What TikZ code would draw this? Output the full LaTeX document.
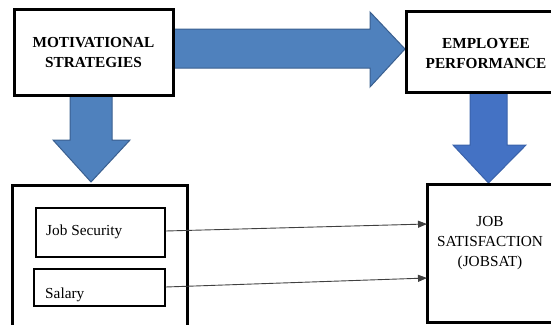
\documentclass[tikz,border=0pt]{standalone}
\usepackage{fontspec}
\setmainfont{Liberation Serif}
\usetikzlibrary{arrows.meta}
\definecolor{blueA}{HTML}{4F81BD}
\definecolor{blueAb}{HTML}{3A5F8F}
\definecolor{blueB}{HTML}{4472C4}
\definecolor{blueBb}{HTML}{3A62AA}
\begin{document}
\begin{tikzpicture}[x=1pt,y=-1pt,
  bigbox/.style={draw=black, line width=3pt, fill=white, minimum width=#1},
  smallbox/.style={draw=black, line width=1.3pt, fill=white},
  lbl/.style={font=\fontsize{15.3}{20}\selectfont, align=center, inner sep=0pt},
  fatarrowA/.style={fill=blueA, draw=blueAb, line width=1pt},
  fatarrowB/.style={fill=blueB, draw=blueBb, line width=1pt},
  thin/.style={draw=black!75, line width=0.9pt, -{Triangle[length=9pt,width=7pt]}}]
\useasboundingbox (0,0) rectangle (551,324);
\clip (0,0) rectangle (551,324);
% fat arrows (behind the boxes)
\coordinate (a1) at (173,29);
\coordinate (a2) at (173,68);
\draw[fatarrowA] (a1) -- (370,29) -- (370,12) -- (405,49) -- (370,87) -- (370,68) -- (a2) -- cycle;
\draw[fatarrowA] (70,95) -- (70,140) -- (53,140) -- (91,182) -- (130,140) -- (112,140) -- (112,95) -- cycle;
\draw[fatarrowB] (470,92) -- (470,145) -- (453,145) -- (488.5,183) -- (526,145) -- (507,145) -- (507,92) -- cycle;
% big boxes
\node[bigbox=159pt, minimum height=86pt] (mot) at (93.5,52) {};
\node[lbl, font=\bfseries\fontsize{15.3}{20}\selectfont] (motT) at (93.5,53) {MOTIVATIONAL\\STRATEGIES};
\node[bigbox=160pt, minimum height=81pt] (emp) at (486,51.5) {};
\node[lbl, font=\bfseries\fontsize{15.3}{20}\selectfont] (empT) at (486,54) {EMPLOYEE\\PERFORMANCE};
\node[bigbox=175pt, minimum height=170pt] (bl) at (99.5,270) {};
\node[bigbox=128pt, minimum height=138pt] (jobsat) at (491,253) {};
\node[lbl] (jobsatT) at (490,243) {JOB\\SATISFACTION\\(JOBSAT)};
% inner boxes
\node[smallbox, minimum width=129pt, minimum height=49pt] (js) at (100.5,232.5) {};
\node[lbl, anchor=west] (jsT) at (46,232) {Job Security};
\node[smallbox, minimum width=131pt, minimum height=37pt] (sal) at (99.5,287.5) {};
\node[lbl, anchor=west] (salT) at (45,295) {Salary};
% thin arrows
\coordinate (t1) at (427,224);
\coordinate (t2) at (427,278);
\draw[thin] (js.east |- 0,231) -- (t1);
\draw[thin] (sal.east |- 0,287) -- (t2);
\end{tikzpicture}
\end{document}
